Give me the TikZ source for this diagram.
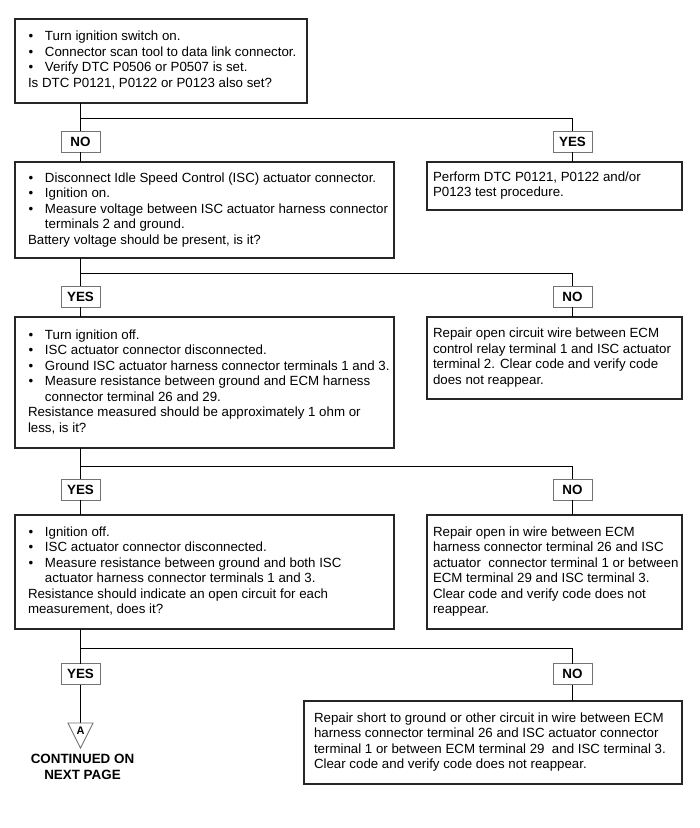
\documentclass[tikz,border=0pt]{standalone}
\usepackage{fontspec}
\setmainfont{Liberation Sans}
\usetikzlibrary{calc}
\newcommand\bl{\makebox[17pt][l]{\hspace{0.5pt}\textbullet}}
\newcommand\ind{\hspace*{17pt}}
\newcommand\lines[2]{\makebox[#1][l]{\begin{tabular}{@{}l@{}}#2\end{tabular}}}
\tikzset{
  txt/.style={font=\fontsize{13.3}{15.5}\selectfont},
  box/.style={txt, draw=black!85, line width=1.4pt, anchor=north west,
    inner ysep=0pt, outer sep=0pt},
  lbl/.style={draw=black!55, line width=0.9pt, fill=white, font=\fontsize{13.4}{15.5}\selectfont\bfseries,
    minimum width=39pt, minimum height=21pt, inner sep=0pt, outer sep=0pt},
  wire/.style={draw=black, line width=1pt},
}
\begin{document}
\begin{tikzpicture}[x=1pt,y=-1pt]
\useasboundingbox (0,0) rectangle (700,828);

% boxes
\node[box, inner xsep=13pt, minimum width=292pt, minimum height=84pt] (b1) at (15,19)
  {\lines{266pt}{\bl Turn ignition switch on.\\
   \bl Connector scan tool to data link connector.\\
   \bl Verify DTC P0506 or P0507 is set.\\
   Is DTC P0121, P0122 or P0123 also set?}};

\node[box, inner xsep=13pt, minimum width=379pt, minimum height=96pt] (b2) at (15,162)
  {\lines{353pt}{\bl Disconnect Idle Speed Control (ISC) actuator connector.\\
   \bl Ignition on.\\
   \bl Measure voltage between ISC actuator harness connector\\
   \ind terminals 2 and ground.\\
   Battery voltage should be present, is it?}};

\node[box, inner xsep=6pt, minimum width=255pt, minimum height=48pt] (b2r) at (427,162)
  {\lines{243pt}{Perform DTC P0121, P0122 and/or\\
   P0123 test procedure.}};

\node[box, inner xsep=13pt, minimum width=379pt, minimum height=131pt] (b3) at (15,317)
  {\lines{353pt}{\bl Turn ignition off.\\
   \bl ISC actuator connector disconnected.\\
   \bl Ground ISC actuator harness connector terminals 1 and 3.\\
   \bl Measure resistance between ground and ECM harness\\
   \ind connector terminal 26 and 29.\\
   Resistance measured should be approximately 1 ohm or\\
   less, is it?}};

\node[box, inner xsep=6pt, minimum width=255pt, minimum height=82pt] (b3r) at (427,317)
  {\lines{243pt}{Repair open circuit wire between ECM\\
   control relay terminal 1 and ISC actuator\\
   terminal 2. Clear code and verify code\\
   does not reappear.}};

\node[box, inner xsep=13pt, minimum width=379pt, minimum height=114pt] (b4) at (15,515)
  {\lines{353pt}{\bl Ignition off.\\
   \bl ISC actuator connector disconnected.\\
   \bl Measure resistance between ground and both ISC\\
   \ind actuator harness connector terminals 1 and 3.\\
   Resistance should indicate an open circuit for each\\
   measurement, does it?}};

\node[box, inner xsep=6pt, minimum width=255pt, minimum height=114pt] (b4r) at (427,515)
  {\lines{243pt}{Repair open in wire between ECM\\
   harness connector terminal 26 and ISC\\
   actuator\ \ connector terminal 1 or between\\
   ECM terminal 29 and ISC terminal 3.\\
   Clear code and verify code does not\\
   reappear.}};

\node[box, inner xsep=10pt, minimum width=378pt, minimum height=83pt] (b5r) at (304,701)
  {\lines{358pt}{Repair short to ground or other circuit in wire between ECM\\
   harness connector terminal 26 and ISC actuator connector\\
   terminal 1 or between ECM terminal 29\ \ and ISC terminal 3.\\
   Clear code and verify code does not reappear.}};

% labels
\node[lbl] (no1)  at (80.5,141.5) {NO};
\node[lbl] (yes1) at (572.5,141.5) {YES};
\node[lbl] (yes2) at (80.5,296.5) {YES};
\node[lbl] (no2)  at (572.5,296.5) {NO};
\node[lbl] (yes3) at (80.5,489.5) {YES};
\node[lbl] (no3)  at (572.5,489.5) {NO};
\node[lbl] (yes4) at (80.5,674) {YES};
\node[lbl] (no4)  at (572.5,674) {NO};

% junctions
\coordinate (j1) at (80.5,118);  \coordinate (k1) at (572.5,118);
\coordinate (j2) at (80.5,273);  \coordinate (k2) at (572.5,273);
\coordinate (j3) at (80.5,466);  \coordinate (k3) at (572.5,466);
\coordinate (j4) at (80.5,648);  \coordinate (k4) at (572.5,648);

\draw[wire] (b1.south -| j1) -- (j1) -- (no1.north);
\draw[wire] (j1) -- (k1) -- (yes1.north);
\draw[wire] (no1.south) -- (no1.south |- b2.north);
\draw[wire] (yes1.south) -- (yes1.south |- b2r.north);

\draw[wire] (b2.south -| j2) -- (j2) -- (yes2.north);
\draw[wire] (j2) -- (k2) -- (no2.north);
\draw[wire] (yes2.south) -- (yes2.south |- b3.north);
\draw[wire] (no2.south) -- (no2.south |- b3r.north);

\draw[wire] (b3.south -| j3) -- (j3) -- (yes3.north);
\draw[wire] (j3) -- (k3) -- (no3.north);
\draw[wire] (yes3.south) -- (yes3.south |- b4.north);
\draw[wire] (no3.south) -- (no3.south |- b4r.north);

\draw[wire] (b4.south -| j4) -- (j4) -- (yes4.north);
\draw[wire] (j4) -- (k4) -- (no4.north);
\draw[wire] (no4.south) -- (no4.south |- b5r.north);

% off-page connector
\coordinate (tri) at (80.5,723);
\draw[wire] (yes4.south) -- (tri);
\draw[draw=black!55, line width=0.9pt, fill=white] (68,723) -- (93,723) -- (80.5,748) -- cycle;
\node[font=\fontsize{11}{12}\selectfont\bfseries, inner sep=0pt] (A) at (80.5,731) {A};
\node[font=\fontsize{13.4}{16}\selectfont\bfseries, align=center, inner sep=0pt] (cont) at (82.5,767)
  {CONTINUED ON\\NEXT PAGE};
\end{tikzpicture}
\end{document}
